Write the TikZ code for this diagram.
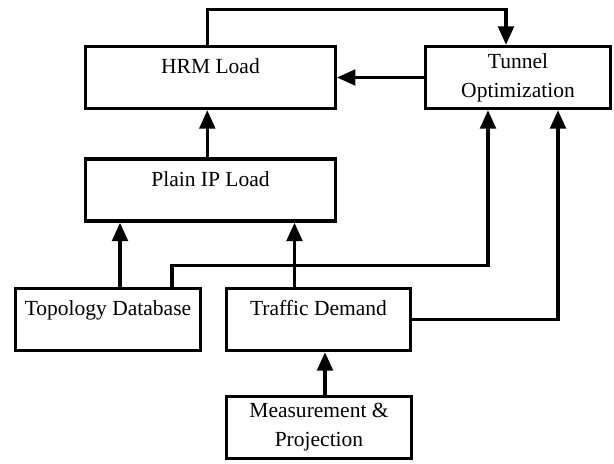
\documentclass[tikz,border=0pt]{standalone}
\usepackage{fontspec}
\setmainfont{Liberation Serif}
\usetikzlibrary{arrows.meta}
\tikzset{
	khoi/.style={draw, line width=2.4pt, minimum height=1.55cm, align=center, inner sep=0pt},
	rong/.style={khoi, minimum width=6.24cm},
	hep/.style={khoi, minimum width=4.61cm},
	motdong/.style={text height=0.4cm, text depth=0.59cm},
	muiten/.style={->, line width=2.4pt}
}
\begin{document}
\begin{tikzpicture}[>={Triangle[length=4.6mm, width=3.9mm]}, x=0.025cm, y=-0.025cm, font=\fontsize{15.3}{20.6}\selectfont]
	%Khung hình
	\useasboundingbox (0,0) rectangle (614,464);
	%Các khối
	\node[rong, motdong] (HRM) at (210.5,77.5) {HRM Load};
	\node[hep] (Tunnel) at (518,77.5) {Tunnel\\Optimization};
	\node[rong, motdong] (PlainIP) at (210.5,190) {Plain IP Load};
	\node[hep, motdong] (Topology) at (108,319.5) {Topology Database};
	\node[hep, motdong] (Traffic) at (318.5,319.5) {Traffic Demand};
	\node[hep] (Measure) at (319,427.5) {Measurement \&\\Projection};
	%Các mũi tên
	\draw[muiten] ([xshift=-.08cm]HRM.north) -- ++(0,0.875cm) -| ([xshift=-.3cm]Tunnel.north);
	\draw[muiten] (Tunnel) -- (HRM);
	\draw[muiten] ([xshift=-.08cm]PlainIP.north) -- ([xshift=-.08cm]HRM.south);
	\draw[muiten] ([xshift=.3cm]Topology.north) -- ([xshift=.3cm]Topology.north |- PlainIP.south);
	\draw[muiten] ([xshift=-.6cm]Traffic.north) -- ([xshift=-.6cm]Traffic.north |- PlainIP.south);
	\draw[muiten] ([xshift=1.6cm]Topology.north) -- ++(0,0.525cm) -| ([xshift=-.75cm]Tunnel.south);
	\draw[muiten] (Traffic.east) -| ([xshift=1cm]Tunnel.south);
	\draw[muiten] ([xshift=.15cm]Measure.north) -- ([xshift=.15cm]Measure.north |- Traffic.south);
\end{tikzpicture}
\end{document}
